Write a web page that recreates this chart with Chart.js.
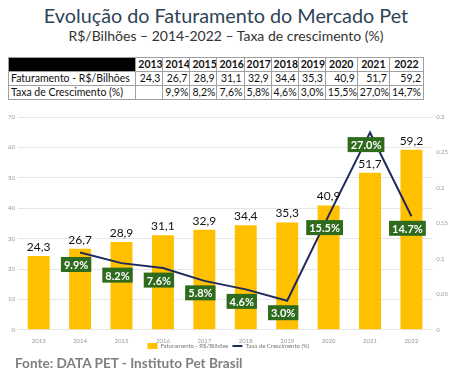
<!DOCTYPE html>
<html>
<head>
<meta charset="utf-8">
<script src="https://cdn.jsdelivr.net/npm/chart.js"></script>
<style>
  html, body { margin: 0; padding: 0; background: #fff; }
  body { width: 452px; height: 374px; position: relative; overflow: hidden; font-family: Lato, "Open Sans", sans-serif; }
  #title { position: absolute; top: 3px; left: 0; width: 452px; text-align: center; font-size: 19.8px; color: #2f4456; }
  #subtitle { position: absolute; top: 27px; left: 0; width: 452px; text-align: center; font-size: 14px; color: #333; }
  #tbl { position: absolute; top: 57px; left: 8px; border-collapse: collapse; table-layout: fixed; width: 416px; font-size: 10.5px; color: #111; }
  #tbl td { border: 1px solid #a0a0a0; padding: 0 2px; height: 13px; line-height: 13px; text-align: right; white-space: nowrap; overflow: hidden; }
  #tbl tr:first-child td { font-weight: bold; text-align: center; }
  #tbl td.head { text-align: left; }
  #tbl td.black { background: #000; }
  #wrap { position: absolute; top: 105px; left: 0; width: 452px; height: 268px; }
  #foot { position: absolute; top: 355px; left: 15px; font-size: 13.6px; font-weight: bold; color: #7f7f7f; }
</style>
</head>
<body>
<div id="title">Evolução do Faturamento do Mercado Pet</div>
<div id="subtitle">R$/Bilhões – 2014-2022 – Taxa de crescimento (%)</div>
<table id="tbl"></table>
<div id="wrap"><canvas id="chart"></canvas></div>
<div id="foot">Fonte: DATA PET - Instituto Pet Brasil</div>
<script>
const years = ['2013', '2014', '2015', '2016', '2017', '2018', '2019', '2020', '2021', '2022'];
const revenue = [24.3, 26.7, 28.9, 31.1, 32.9, 34.4, 35.3, 40.9, 51.7, 59.2];
// growth rate in %, as printed in the table and the green labels
const growth = [null, 9.9, 8.2, 7.6, 5.8, 4.6, 3.0, 15.5, 27.0, 14.7];
// where the line is actually plotted on the right axis in the picture
const growthLine = [null, 0.109, 0.094, 0.087, 0.069, 0.057, 0.041, 0.161, 0.278, 0.160];
const rowNames = ['Faturamento - R$/Bilhões', 'Taxa de Crescimento (%)'];
const legendNames = ['Faturamento - R$/Bilhões', 'Taxa de Crescimento (%)'];

const comma = v => v.toFixed(1).replace('.', ',');

// table above the chart
const colW = [127, 27, 27, 27, 27, 27, 27, 27, 32, 32, 34];
const tbl = document.getElementById('tbl');
let html = '<colgroup>' + colW.map(w => '<col style="width:' + w + 'px">').join('') + '</colgroup>';
html += '<tr><td class="black"></td>';
years.forEach(y => { html += '<td>' + y + '</td>'; });
html += '</tr><tr><td class="head">' + rowNames[0] + '</td>';
revenue.forEach(v => { html += '<td>' + comma(v) + '</td>'; });
html += '</tr><tr><td class="head">' + rowNames[1] + '</td>';
growth.forEach(v => { html += '<td>' + (v == null ? '' : comma(v) + '%') + '</td>'; });
html += '</tr>';
tbl.innerHTML = html;

const labelPlugin = {
  id: 'valueLabels',
  afterLayout(chart) {
    // legend sits on top of the year labels, like in the original
    chart.legend.top -= 14;
    chart.legend.bottom -= 14;
  },
  afterDatasetsDraw(chart) {
    const ctx = chart.ctx;
    ctx.save();
    ctx.textAlign = 'center';
    ctx.font = '12px Lato';
    ctx.fillStyle = '#111';
    ctx.textBaseline = 'bottom';
    chart.getDatasetMeta(0).data.forEach((b, i) => {
      ctx.fillText(comma(revenue[i]), b.x, b.y - 3);
    });
    ctx.font = 'bold 11px Lato';
    ctx.textBaseline = 'middle';
    chart.getDatasetMeta(1).data.forEach((p, i) => {
      if (growth[i] == null) return;
      const t = growth[i].toFixed(1) + '%';
      const w = ctx.measureText(t).width + 6;
      const h = 15;
      const cx = p.x - 4, cy = p.y + 12;
      ctx.fillStyle = '#2e6b1d';
      ctx.fillRect(cx - w / 2, cy - h / 2, w, h);
      ctx.fillStyle = '#fff';
      ctx.fillText(t, cx, cy + 1);
    });
    ctx.restore();
  }
};

new Chart(document.getElementById('chart'), {
  type: 'bar',
  data: {
    labels: years,
    datasets: [
      {
        label: legendNames[0],
        data: revenue,
        backgroundColor: '#ffc000',
        yAxisID: 'y',
        barPercentage: 0.53,
        categoryPercentage: 1,
        pointStyle: 'rect',
        order: 2
      },
      {
        type: 'line',
        label: legendNames[1],
        data: growthLine,
        borderColor: '#1f2a5c',
        backgroundColor: '#1f2a5c',
        borderWidth: 2,
        pointRadius: 0,
        tension: 0,
        yAxisID: 'y1',
        pointStyle: 'line',
        order: 1
      }
    ]
  },
  options: {
    responsive: true,
    maintainAspectRatio: false,
    animation: false,
    layout: { padding: { top: 12, left: 5, right: 0, bottom: 0 } },
    plugins: {
      legend: {
        position: 'bottom',
        labels: {
          usePointStyle: true,
          boxWidth: 6,
          boxHeight: 6,
          pointStyleWidth: 10,
          padding: 4,
          color: '#777',
          font: { size: 6, family: 'Lato' },
          sort: (a, b) => a.datasetIndex - b.datasetIndex
        }
      },
      tooltip: { enabled: false }
    },
    scales: {
      x: {
        grid: { display: false, drawTicks: false },
        border: { display: false },
        ticks: { color: '#999', font: { size: 6, family: 'Lato' }, padding: 8 }
      },
      y: {
        position: 'left',
        min: 0,
        max: 70,
        ticks: { stepSize: 10, color: '#999', font: { size: 6, family: 'Lato' }, padding: 3 },
        grid: { color: '#e6e6e6', drawTicks: false },
        border: { display: false }
      },
      y1: {
        position: 'right',
        min: 0,
        max: 0.3,
        ticks: {
          stepSize: 0.05,
          color: '#999',
          font: { size: 6, family: 'Lato' },
          padding: 4,
          callback: v => String(Math.round(v * 100) / 100)
        },
        grid: { display: false, drawTicks: false },
        border: { display: false }
      }
    }
  },
  plugins: [labelPlugin]
});
</script>
</body>
</html>
